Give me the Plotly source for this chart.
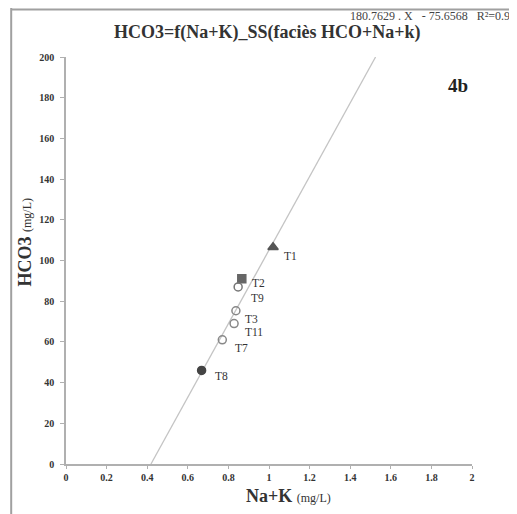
import plotly.graph_objects as go

# Data
labels = ["T1", "T2", "T9", "T3", "T11", "T7", "T8"]
na_k = [1.02, 0.866, 0.848, 0.837, 0.828, 0.77, 0.668]
hco3 = [106.5, 91, 87, 75.3, 69, 61, 46]
symbols = ["triangle-up", "square", "circle-open", "circle-open", "circle-open", "circle-open", "circle"]
label_dx = [9, 8, 11, 7, 9, 11, 11]
label_dy = [9, 4, 11, 8, 8, 8, 6]

slope = 180.7629
intercept = -75.6568
x_ticks = [0, 0.2, 0.4, 0.6, 0.8, 1, 1.2, 1.4, 1.6, 1.8, 2]
x_tick_text = ["0", "0.2", "0.4", "0.6", "0.8", "1", "1.2", "1.4", "1.6", "1.8", "2"]
y_ticks = list(range(0, 201, 20))

FONT = "Liberation Serif, Times New Roman, serif"

fig = go.Figure()

# regression line across plot
x0 = -intercept / slope
x1 = (200 - intercept) / slope
fig.add_trace(go.Scatter(x=[x0, x1], y=[slope * x0 + intercept, slope * x1 + intercept],
                         mode="lines", line=dict(color="#c4c4c4", width=1.3),
                         hoverinfo="skip", showlegend=False))

colors = ["#555555", "#666666", "#777777", "#888888", "#888888", "#888888", "#444444"]
for i in range(len(labels)):
    fig.add_trace(go.Scatter(x=[na_k[i]], y=[hco3[i]], mode="markers",
                             marker=dict(symbol=symbols[i], size=8 if symbols[i] != "triangle-up" else 9,
                                         color=colors[i], line=dict(color=colors[i], width=1.5)),
                             showlegend=False))
    fig.add_annotation(x=na_k[i], y=hco3[i], text=labels[i], showarrow=False,
                       xanchor="left", yanchor="middle", xshift=label_dx[i], yshift=-label_dy[i],
                       font=dict(family=FONT, size=11.5, color="#333333"))

fig.update_xaxes(range=[0, 2], tickvals=x_ticks, ticktext=["<b>%s</b>" % t for t in x_tick_text],
                 showgrid=False, zeroline=False,
                 showline=True, linecolor="#b0b0b0", linewidth=1.5, ticks="outside", ticklen=3,
                 tickcolor="#b0b0b0", tickfont=dict(family=FONT, size=10, color="#333333"))
fig.update_yaxes(range=[0, 200], tickvals=y_ticks, ticktext=["<b>%d</b>" % t for t in y_ticks],
                 showgrid=False, zeroline=False,
                 showline=True, linecolor="#b0b0b0", linewidth=1.5, ticks="outside", ticklen=4,
                 ticklabelstandoff=4,
                 tickcolor="#b0b0b0", tickfont=dict(family=FONT, size=10, color="#333333"))

# axis titles as annotations
fig.add_annotation(xref="paper", yref="paper", x=0.549, y=-0.0786,
                   text="<b>Na+K</b> <span style='font-size:12px'>(mg/L)</span>",
                   showarrow=False, font=dict(family=FONT, size=18, color="#333333"),
                   xanchor="center", yanchor="middle")
fig.add_annotation(xref="paper", yref="paper", x=-0.101, y=0.5467, textangle=-90,
                   text="<b>HCO3</b> <span style='font-size:12px'>(mg/L)</span>",
                   showarrow=False, font=dict(family=FONT, size=18, color="#333333"),
                   xanchor="center", yanchor="middle")

fig.add_annotation(xref="paper", yref="paper", x=0.4975, y=1.0614,
                   text="<b>HCO3=f(Na+K)_SS(faciès HCO+Na+k)</b>",
                   showarrow=False, font=dict(family=FONT, size=18, color="#333333"),
                   xanchor="center", yanchor="middle")
fig.add_annotation(xref="paper", yref="paper", x=0.6946, y=1.1007,
                   text="180.7629 . X  \u00a0- 75.6568 \u00a0\u00a0R²=0.91",
                   showarrow=False, font=dict(family=FONT, size=12, color="#444444"),
                   xanchor="left", yanchor="middle")
fig.add_annotation(xref="paper", yref="paper", x=0.995, y=0.929, text="<b>4b</b>",
                   showarrow=False, font=dict(family=FONT, size=19, color="#222222"),
                   xanchor="right", yanchor="middle")

# frame lines (page body has 8px offset)
fig.add_shape(type="line", xref="paper", yref="paper", x0=-0.135, x1=-0.135, y0=-0.13, y1=1.125,
              line=dict(color="#a0a0a0", width=2))
fig.add_shape(type="line", xref="paper", yref="paper", x0=-0.135, x1=1.12, y0=1.117, y1=1.117,
              line=dict(color="#a0a0a0", width=2))

fig.update_layout(width=509, height=506, margin=dict(l=58, r=45, t=49, b=50),
                  plot_bgcolor="white", paper_bgcolor="white", showlegend=False)

fig.write_html("out.html")
